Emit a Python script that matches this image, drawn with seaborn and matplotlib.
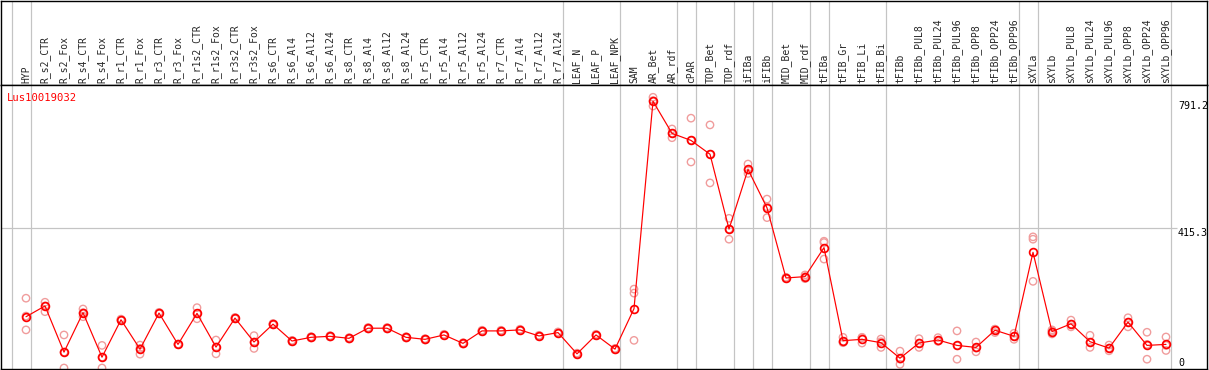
import numpy as np
import pandas as pd
import matplotlib
matplotlib.use("Agg")
import matplotlib.pyplot as plt
import seaborn as sns

categories = ["HYP", "R_s2_CTR", "R_s2_Fox", "R_s4_CTR", "R_s4_Fox", "R_r1_CTR", "R_r1_Fox",
              "R_r3_CTR", "R_r3_Fox", "R_r1s2_CTR", "R_r1s2_Fox", "R_r3s2_CTR", "R_r3s2_Fox",
              "R_s6_CTR", "R_s6_Al4", "R_s6_Al12", "R_s6_Al24", "R_s8_CTR", "R_s8_Al4",
              "R_s8_Al12", "R_s8_Al24", "R_r5_CTR", "R_r5_Al4", "R_r5_Al12", "R_r5_Al24",
              "R_r7_CTR", "R_r7_Al4", "R_r7_Al12", "R_r7_Al24", "LEAF_N", "LEAF_P", "LEAF_NPK",
              "SAM", "AR_Bet", "AR_rdf", "cPAR", "TOP_Bet", "TOP_rdf", "iFIBa", "iFIBb",
              "MID_Bet", "MID_rdf", "tFIBa", "tFIB_Gr", "tFIB_Li", "tFIB_Bi", "tFIBb",
              "tFIBb_PUL8", "tFIBb_PUL24", "tFIBb_PUL96", "tFIBb_OPP8", "tFIBb_OPP24",
              "tFIBb_OPP96", "sXYLa", "sXYLb", "sXYLb_PUL8", "sXYLb_PUL24", "sXYLb_PUL96",
              "sXYLb_OPP8", "sXYLb_OPP24", "sXYLb_OPP96"]

mean_values = [152, 184, 47, 164, 32, 143, 56, 163, 70, 162, 62, 148, 77,
               130, 80, 91, 94, 88, 118, 118, 91, 85, 98, 73, 110, 110, 113, 95, 105,
               42, 98, 56, 176, 791.2, 696, 675, 634, 412, 589, 475, 267, 271, 357,
               81, 85, 75, 29, 74, 83, 67, 61, 112, 94, 343, 108, 131, 78, 59, 136, 67, 70]

rep_a = [207, 195, 98, 175, 67, 145, 68, 165, 71, 179, 83, 150, 96,
         132, 82, 93, 96, 90, 120, 120, 93, 87, 100, 75, 112, 112, 115, 97, 107,
         44, 100, 58, 234, 803, 709, 741, 721, 444, 605, 501, 269, 276, 376,
         91, 91, 86, 50, 87, 90, 110, 77, 115, 103, 389, 113, 142, 97, 68, 149, 106, 92]
rep_b = [113, 167, 0, 152, 0, 141, 41, 161, 69, 146, 42, 146, 58,
         128, 78, 89, 92, 86, 116, 116, 89, 83, 96, 71, 108, 108, 111, 93, 103,
         40, 96, 54, 82, 777, 683, 611, 549, 382, 577, 446, 265, 265, 323,
         75, 74, 61, 11, 61, 79, 26, 48, 105, 85, 257, 101, 122, 61, 51, 122, 26, 52]
rep_c = [154, 184, 47, 164, 32, 143, 58, 163, 70, 162, 62, 148, 77,
         130, 80, 91, 94, 88, 118, 118, 91, 85, 98, 73, 110, 110, 113, 95, 105,
         42, 98, 56, 222, 793, 696, 675, 634, 412, 587, 478, 267, 271, 372,
         78, 90, 78, 26, 74, 80, 66, 59, 115, 94, 382, 109, 130, 76, 59, 136, 70, 67]

separators_after = [-1, 0, 28, 31, 34, 35, 37, 38, 39, 41, 42, 45, 52, 53, 60]
y_labels = [791.2, 415.3]
gene_name = "Lus10019032"

W, H = 1209, 370
sns.set_style("white")
plt.rcParams["font.family"] = ["DejaVu Sans Mono", "DejaVu Sans"]

fig = plt.figure(figsize=(W / 100, H / 100), dpi=100)
px = 0.72  # one pixel in points

x_left = (1 - 26) / 19
x_right = (1207 - 26) / 19
y_bottom = -3.0
y_top = (368 - 85) * 2.966

# header axes
axh = fig.add_axes([1 / W, (H - 85) / H, 1206 / W, 84.5 / H])
axh.set_xlim(x_left, x_right)
axh.set_ylim(0, 1)
axh.set_xticks([])
axh.set_yticks([])
for s in axh.spines.values():
    s.set_color("black")
    s.set_linewidth(1.4 * px)

# main axes
ax = fig.add_axes([1 / W, 1 / H, 1206 / W, 284 / H])
ax.set_xlim(x_left, x_right)
ax.set_ylim(y_bottom, y_top)
for s in ax.spines.values():
    s.set_color("black")
    s.set_linewidth(1.4 * px)

grid_c = "#c4c4c4"
for i in separators_after:
    ax.axvline(i + 0.25, color=grid_c, lw=1.2 * px, zorder=0)
    axh.axvline(i + 0.25, color=grid_c, lw=1.2 * px, zorder=0)
ax.hlines(415.3, x_left, (1177 - 26) / 19, color=grid_c, lw=1.2 * px, zorder=0)

idx = np.arange(len(categories))
df_rep = pd.DataFrame({"idx": np.concatenate([idx, idx, idx]),
                       "value": np.concatenate([rep_a, rep_b, rep_c])})
df_mean = pd.DataFrame({"idx": idx, "value": mean_values})

sns.scatterplot(data=df_rep, x="idx", y="value", ax=ax, marker="o", s=28,
                linewidth=1.0, zorder=2, legend=False)
coll = ax.collections[-1]
coll.set_facecolor("none")
coll.set_edgecolor("#f09c9c")

sns.lineplot(data=df_mean, x="idx", y="value", ax=ax, color="#ff0000", lw=1.2 * px,
             marker="o", markersize=5.6, markerfacecolor="none", markeredgecolor="#ff0000",
             markeredgewidth=1.25, zorder=3, legend=False)

ax.set_xlabel("")
ax.set_ylabel("")
ax.set_yticks([])
ax.xaxis.tick_top()
ax.set_xticks(idx)
ax.set_xticklabels(categories, rotation=90, fontsize=7, family="DejaVu Sans Mono")
ax.tick_params(axis="x", top=True, bottom=False, labeltop=True, labelbottom=False,
               length=0, pad=1.5)

for v in y_labels:
    ax.text((1178 - 26) / 19, v, f"{v}", va="top", ha="left", fontsize=7.2,
            family="DejaVu Sans Mono", color="black")
ax.text((1178 - 26) / 19, 0, "0", va="bottom", ha="left", fontsize=7.2,
        family="DejaVu Sans Mono", color="black")

fig.text(7 / W, 1 - 98 / H, gene_name, color="#ff0000", fontsize=7.6,
         family="DejaVu Sans Mono", va="center", ha="left")

fig.savefig("out.png", dpi=100, facecolor="white")
